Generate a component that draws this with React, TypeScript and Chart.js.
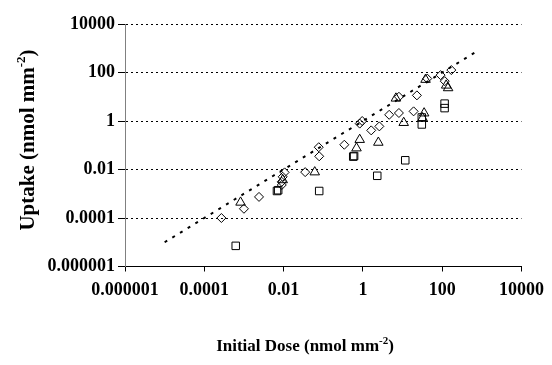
import React, { useEffect, useRef } from "react";
import { Chart, registerables } from "chart.js";

Chart.register(...registerables);

// Axis ticks (both axes share the same decades)
const tickValues = [1e-6, 1e-4, 1e-2, 1, 100, 1e4];
const tickLabels = ["0.000001", "0.0001", "0.01", "1", "100", "10000"];

// Diamond series
const diamondDose = [2.7e-4, 1.0e-3, 2.4e-3, 0.0106, 0.0095, 0.009, 0.009, 0.035, 0.077, 0.079, 0.34, 0.83, 0.96, 1.62, 2.6, 4.6, 8.1, 19, 8.1, 23, 42, 91, 116, 170];
const diamondUptake = [1.0e-4, 2.4e-4, 7.4e-4, 0.0076, 0.005, 0.0031, 0.0023, 0.0078, 0.083, 0.035, 0.105, 0.78, 1.0, 0.41, 0.6, 1.8, 2.14, 2.5, 10, 11.4, 56, 78, 44, 126];

// Triangle series
const triangleDose = [8.2e-4, 0.0095, 0.061, 0.69, 0.83, 2.45, 6.8, 10.7, 32, 35, 38, 126, 141];
const triangleUptake = [4.4e-4, 0.0037, 0.0078, 0.076, 0.17, 0.13, 8.6, 0.85, 1.33, 2.1, 51, 29.5, 23];

// Square series
const squareDose = [6.2e-4, 6.8e-3, 7.3e-3, 0.079, 0.57, 0.6, 2.3, 11.7, 30.6, 30.6, 115, 115];
const squareUptake = [7.1e-6, 1.3e-3, 1.4e-3, 0.0013, 0.034, 0.036, 0.0055, 0.024, 1.4, 0.72, 5.2, 3.4];

// 1:1 reference line
const unityDose = [1e-5, 800];
const unityUptake = [1e-5, 800];

const FONT = '"Liberation Serif", "Times New Roman", serif';

const toPoints = (xs: number[], ys: number[]) => xs.map((x, i) => ({ x, y: ys[i] }));

function drawSuperTitle(
  c: CanvasRenderingContext2D,
  main: string,
  sup: string,
  tail: string,
  size: number
) {
  const mainFont = `bold ${size}px ${FONT}`;
  const supFont = `bold ${Math.round(size * 0.62)}px ${FONT}`;
  c.font = mainFont;
  const w1 = c.measureText(main).width;
  const w3 = c.measureText(tail).width;
  c.font = supFont;
  const w2 = c.measureText(sup).width;
  const total = w1 + w2 + w3;
  let x = -total / 2;
  c.textBaseline = "alphabetic";
  c.textAlign = "left";
  c.font = mainFont;
  c.fillText(main, x, 0);
  x += w1;
  c.font = supFont;
  c.fillText(sup, x, -size * 0.42);
  x += w2;
  c.font = mainFont;
  c.fillText(tail, x, 0);
}

const axisTitles = {
  id: "axisTitles",
  afterDraw(chart: any) {
    const c: CanvasRenderingContext2D = chart.ctx;
    c.save();
    c.fillStyle = "#000";
    c.translate(305, 351);
    drawSuperTitle(c, "Initial Dose (nmol mm", "-2", ")", 17);
    c.restore();

    c.save();
    c.fillStyle = "#000";
    c.translate(34, 140);
    c.rotate(-Math.PI / 2);
    drawSuperTitle(c, "Uptake (nmol mm", "-2", ")", 21);
    c.restore();
  },
};

export default function App() {
  const ref = useRef<HTMLCanvasElement>(null);

  useEffect(() => {
    const canvas = ref.current;
    if (!canvas) return;
    const tickFont = { family: FONT, size: 18, weight: "bold" as const };
    const setTicks = (scale: any) => {
      scale.ticks = tickValues.map((value) => ({ value }));
    };
    const markerBase = {
      borderColor: "#000",
      backgroundColor: "rgba(0,0,0,0)",
      borderWidth: 1,
      showLine: false,
    };

    const chart = new Chart(canvas, {
      type: "scatter",
      data: {
        datasets: [
          {
            ...markerBase,
            label: "diamonds",
            data: toPoints(diamondDose, diamondUptake),
            pointStyle: "rectRot",
            pointRadius: 4.5,
          },
          {
            ...markerBase,
            label: "triangles",
            data: toPoints(triangleDose, triangleUptake),
            pointStyle: "triangle",
            pointRadius: 5.5,
          },
          {
            ...markerBase,
            label: "squares",
            data: toPoints(squareDose, squareUptake),
            pointStyle: "rect",
            pointRadius: 5.3,
          },
          {
            type: "line",
            label: "1:1",
            data: toPoints(unityDose, unityUptake),
            borderColor: "#000",
            borderWidth: 2,
            borderDash: [3, 6],
            pointRadius: 0,
            showLine: true,
            fill: false,
          } as any,
        ],
      },
      options: {
        responsive: false,
        animation: false,
        devicePixelRatio: 1,
        layout: { padding: { left: 0, right: 22, top: 24, bottom: 0 } },
        plugins: {
          legend: { display: false },
          tooltip: { enabled: false },
        },
        scales: {
          x: {
            type: "logarithmic",
            min: 1e-6,
            max: 1e4,
            afterBuildTicks: setTicks,
            afterFit: (s: any) => {
              s.height = 98.5;
            },
            ticks: {
              autoSkip: false,
              maxRotation: 0,
              padding: 8,
              color: "#000",
              font: tickFont,
              callback: (_v: any, i: number) => tickLabels[i],
            },
            grid: {
              drawOnChartArea: false,
              drawTicks: true,
              tickLength: 5,
              tickColor: "#000",
            },
            border: { color: "#000", width: 1 },
          },
          y: {
            type: "logarithmic",
            min: 1e-6,
            max: 1e4,
            afterBuildTicks: setTicks,
            afterFit: (s: any) => {
              s.width = 125;
            },
            ticks: {
              autoSkip: false,
              padding: 3,
              color: "#000",
              font: tickFont,
              callback: (_v: any, i: number) => tickLabels[i],
            },
            grid: {
              color: "#000",
              lineWidth: 1,
              tickLength: 7,
              tickColor: "#000",
            },
            border: { color: "#808080", width: 1, dash: [2, 3] },
          },
        },
      },
      plugins: [axisTitles],
    });

    return () => chart.destroy();
  }, []);

  return (
    <div style={{ position: "absolute", left: 0, top: 0, width: 552, height: 365, background: "#fff" }}>
      <canvas ref={ref} width={552} height={365} style={{ display: "block" }} />
    </div>
  );
}
